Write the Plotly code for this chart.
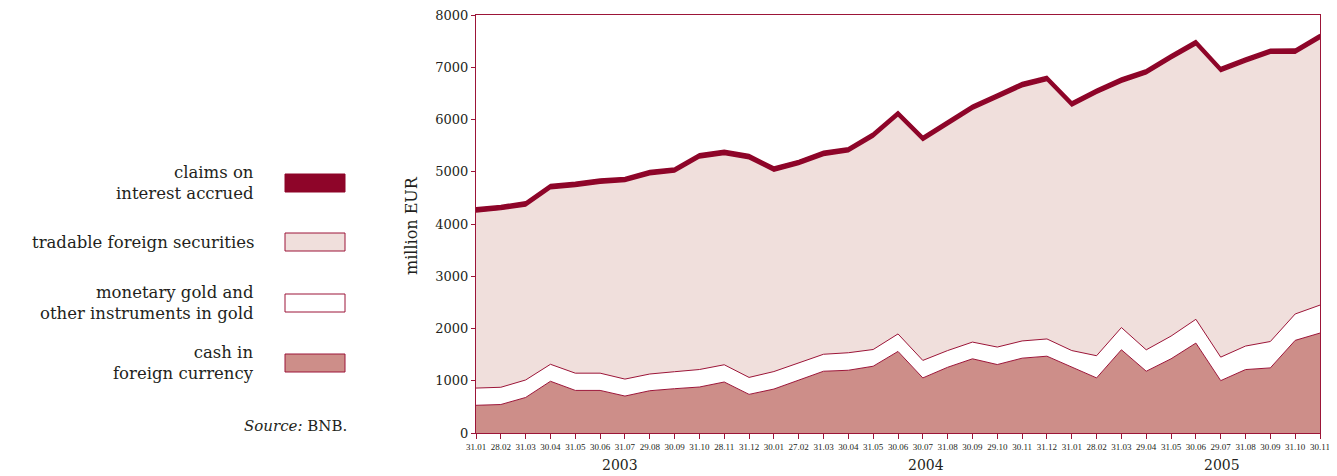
import plotly.graph_objects as go

# ---------------- data ----------------
dates_2003 = ["31.01", "28.02", "31.03", "30.04", "31.05", "30.06", "31.07", "29.08", "30.09", "31.10", "28.11", "31.12"]
dates_2004 = ["30.01", "27.02", "31.03", "30.04", "31.05", "30.06", "30.07", "31.08", "30.09", "29.10", "30.11", "31.12"]
dates_2005 = ["31.01", "28.02", "31.03", "29.04", "31.05", "30.06", "29.07", "31.08", "30.09", "31.10", "30.11"]
tick_labels = dates_2003 + dates_2004 + dates_2005
years = ["2003", "2004", "2005"]

cash_foreign_currency = [530, 545, 680, 990, 815, 815, 707, 809, 848, 880, 976, 739,
                         841, 1008, 1182, 1201, 1278, 1561, 1054, 1258, 1420, 1310, 1432, 1470,
                         1258, 1054, 1593, 1182, 1420, 1721, 1002, 1214, 1246, 1773, 1913]
monetary_gold = [330, 330, 335, 325, 330, 330, 325, 320, 325, 335, 330, 325,
                 335, 335, 325, 335, 320, 335, 335, 320, 320, 335, 330, 330,
                 320, 425, 425, 410, 435, 455, 450, 450, 505, 505, 535]
tradable_securities = [3370, 3400, 3330, 3360, 3575, 3635, 3780, 3815, 3820, 4050, 4025, 4185,
                       3835, 3795, 3805, 3845, 4065, 4175, 4210, 4315, 4455, 4765, 4865, 4945,
                       4680, 5020, 4695, 5280, 5305, 5255, 5465, 5435, 5515, 4990, 5100]
claims_interest = [80, 80, 80, 80, 80, 80, 80, 80, 80, 80, 80, 80,
                   80, 80, 80, 80, 80, 80, 80, 80, 80, 80, 80, 80,
                   80, 80, 80, 80, 80, 80, 80, 80, 80, 80, 80]

y_ticks = [0, 1000, 2000, 3000, 4000, 5000, 6000, 7000, 8000]

# ---------------- style ----------------
DARK = "#8E0529"
LINE = "#9C1538"
LIGHT = "#F0DFDC"
CASH = "#CD8E89"
TEXT = "#231F20"
FONT = "DejaVu Serif"
FONT_SMALL = "Liberation Serif"

OFF = 8  # page body margin
W, H = 1337 - OFF, 476 - OFF
# plot area in page pixels: x 476..1320, y 15..433
L = 476 - OFF
T = 15 - OFF
R = W - (1320 - OFF)
B = H - (433 - OFF)
PW, PH = W - L - R, H - T - B


def px(xp):
    return (xp - OFF - L) / PW


def py(yp):
    return (H - B - (yp - OFF)) / PH


x = list(range(len(tick_labels)))

fig = go.Figure()
fig.add_trace(go.Scatter(x=x, y=cash_foreign_currency, stackgroup="s", mode="lines",
                         line=dict(color=LINE, width=1), fillcolor=CASH, name="cash in foreign currency"))
fig.add_trace(go.Scatter(x=x, y=monetary_gold, stackgroup="s", mode="lines",
                         line=dict(color=LINE, width=1), fillcolor="white",
                         name="monetary gold and other instruments in gold"))
fig.add_trace(go.Scatter(x=x, y=tradable_securities, stackgroup="s", mode="lines",
                         line=dict(color=DARK, width=1.5), fillcolor=LIGHT, name="tradable foreign securities"))
fig.add_trace(go.Scatter(x=x, y=claims_interest, stackgroup="s", mode="lines",
                         line=dict(color=DARK, width=1.5), fillcolor=DARK, name="claims on interest accrued"))

fig.update_layout(
    width=W, height=H,
    margin=dict(l=L, r=R, t=T, b=B, autoexpand=False),
    paper_bgcolor="white", plot_bgcolor="white",
    showlegend=False,
    font=dict(family=FONT, color=TEXT),
    xaxis=dict(range=[0, len(tick_labels) - 1], tickmode="array", tickvals=x, ticktext=tick_labels,
               ticks="outside", ticklen=5, tickcolor=LINE, tickangle=0, automargin=False,
               tickfont=dict(size=9, family=FONT_SMALL, color=TEXT), ticklabeloverflow="allow",
               showline=True, linecolor=LINE, linewidth=1, mirror=True, showgrid=False, zeroline=False),
    yaxis=dict(range=[0, 8000], tickmode="array", tickvals=y_ticks,
               ticks="outside", ticklen=4, tickcolor=LINE, automargin=False,
               tickfont=dict(size=13, family=FONT, color=TEXT), ticklabeloverflow="allow",
               showline=True, linecolor=LINE, linewidth=1, mirror=True, showgrid=False, zeroline=False),
)

# y-axis title
fig.add_annotation(text="million EUR", xref="paper", yref="paper", x=px(411), y=py(226),
                   showarrow=False, textangle=-90, xanchor="center", yanchor="middle",
                   font=dict(size=16, family=FONT, color=TEXT))

# year labels
for yr, cx in zip(years, [620, 926, 1222]):
    fig.add_annotation(text=yr, xref="paper", yref="paper", x=px(cx), y=py(465),
                       showarrow=False, font=dict(size=14, family=FONT, color=TEXT),
                       xanchor="center", yanchor="middle")

# legend (custom)
legend_items = [
    ("claims on<br>interest accrued", DARK, DARK, 183),
    ("tradable foreign securities", LIGHT, LINE, 242),
    ("monetary gold and<br>other instruments in gold", "white", LINE, 303),
    ("cash in<br>foreign currency", CASH, LINE, 363),
]
for label, fill, border, cy in legend_items:
    fig.add_shape(type="rect", xref="paper", yref="paper",
                  x0=px(285), x1=px(345), y0=py(cy - 9), y1=py(cy + 9),
                  fillcolor=fill, line=dict(color=border, width=1))
    fig.add_annotation(text=label, xref="paper", yref="paper", x=px(256), y=py(cy),
                       showarrow=False, align="right", xanchor="right", yanchor="middle",
                       font=dict(size=16.5, family=FONT, color=TEXT))

fig.add_annotation(text="<i>Source:</i> BNB.", xref="paper", yref="paper", x=px(349), y=py(426),
                   showarrow=False, xanchor="right", yanchor="middle",
                   font=dict(size=15, family=FONT, color=TEXT))

fig.write_html("out.html")
